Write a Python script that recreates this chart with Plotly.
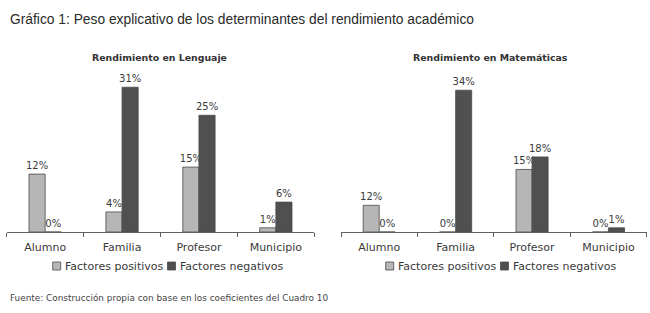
import plotly.graph_objects as go

categories = ["Alumno", "Familia", "Profesor", "Municipio"]
series_names = ["Factores positivos", "Factores negativos"]

# Bar heights (percent), and the printed labels
leng_pos = [12.4, 4.3, 13.9, 0.9]
leng_neg = [0.0, 31.0, 25.0, 6.4]
leng_pos_labels = ["12%", "4%", "15%", "1%"]
leng_neg_labels = ["0%", "31%", "25%", "6%"]

mat_pos = [6.4, 0.0, 15.0, 0.0]
mat_neg = [0.0, 34.0, 18.0, 1.0]
mat_pos_labels = ["12%", "0%", "15%", "0%"]
mat_neg_labels = ["0%", "34%", "18%", "1%"]

title_text = "Gráfico 1: Peso explicativo de los determinantes del rendimiento académico"
sub_left = "Rendimiento en Lenguaje"
sub_right = "Rendimiento en Matemáticas"
source_text = "Fuente: Construcción propia con base en los coeficientes del Cuadro 10"

FONT = "DejaVu Sans"
LIGHT = "#b6b6b6"
DARK = "#505050"
EDGE = "#4a4a4a"
TXT = "#3a3a3a"

fig = go.Figure()

def add_bars(vals, labels, name, color, xa, ya):
    fig.add_trace(go.Bar(
        x=categories, y=vals, name=name, text=labels,
        textposition="outside", cliponaxis=False, constraintext="none",
        textfont=dict(family=FONT, size=10, color=TXT),
        marker=dict(color=color, line=dict(color=EDGE, width=0.8)),
        xaxis=xa, yaxis=ya, showlegend=False,
    ))

add_bars(leng_pos, leng_pos_labels, series_names[0], LIGHT, "x", "y")
add_bars(leng_neg, leng_neg_labels, series_names[1], DARK, "x", "y")
add_bars(mat_pos, mat_pos_labels, series_names[0], LIGHT, "x2", "y2")
add_bars(mat_neg, mat_neg_labels, series_names[1], DARK, "x2", "y2")

W, H = 650, 313
def fx(px): return px / W
def fy(py): return (H - py) / H

axis_common = dict(
    showline=True, linecolor="#606060", linewidth=1,
    ticks="outside", tickson="boundaries", ticklen=4, tickcolor="#606060",
    tickfont=dict(family=FONT, size=11, color=TXT), ticklabelstandoff=5,
    showgrid=False, zeroline=False, fixedrange=True,
)
yaxis_common = dict(visible=False, showgrid=False, zeroline=False, fixedrange=True)

annotations = [
    dict(text=title_text, x=fx(8), y=fy(19), xref="paper", yref="paper",
         xanchor="left", yanchor="middle", showarrow=False,
         font=dict(family="Liberation Sans", size=13.8, color="#2a2a2a")),
    dict(text="<b>" + sub_left + "</b>", x=fx(159), y=fy(57), xref="paper", yref="paper",
         xanchor="center", yanchor="middle", showarrow=False,
         font=dict(family=FONT, size=9.4, color="#333333")),
    dict(text="<b>" + sub_right + "</b>", x=fx(490), y=fy(57), xref="paper", yref="paper",
         xanchor="center", yanchor="middle", showarrow=False,
         font=dict(family=FONT, size=9.4, color="#333333")),
    dict(text=source_text, x=fx(8), y=fy(298), xref="paper", yref="paper",
         xanchor="left", yanchor="middle", showarrow=False,
         font=dict(family=FONT, size=8.9, color="#444444")),
]
shapes = []

# Legends (one under each chart)
legend_y = 266
legend_items = [(52.7, LIGHT, series_names[0]), (167.5, DARK, series_names[1])]
for offset in (0, 333):
    for x0, color, name in legend_items:
        sx = x0 + offset
        shapes.append(dict(type="rect", xref="paper", yref="paper",
                           x0=fx(sx), x1=fx(sx + 8), y0=fy(legend_y + 4), y1=fy(legend_y - 4),
                           fillcolor=color, line=dict(color=EDGE, width=0.8)))
        annotations.append(dict(text=name, x=fx(sx + 10.5), y=fy(legend_y), xref="paper", yref="paper",
                                xanchor="left", yanchor="middle", showarrow=False,
                                font=dict(family=FONT, size=11, color=TXT)))

fig.update_layout(
    width=W, height=H,
    margin=dict(l=0, r=0, t=0, b=0),
    paper_bgcolor="white", plot_bgcolor="white",
    barmode="group", bargap=0.58, bargroupgap=0,
    xaxis=dict(domain=[fx(6.7), fx(314.3)], anchor="y", **axis_common),
    yaxis=dict(domain=[fy(232), fy(80)], range=[0, 152 / 4.67], anchor="x", **yaxis_common),
    xaxis2=dict(domain=[fx(341), fx(646.7)], anchor="y2", **axis_common),
    yaxis2=dict(domain=[fy(232), fy(80)], range=[0, 152 / 4.17], anchor="x2", **yaxis_common),
    annotations=annotations,
    shapes=shapes,
    showlegend=False,
)

fig.write_html("out.html", config={"displayModeBar": False},
               post_script="document.body.style.margin='0';")
